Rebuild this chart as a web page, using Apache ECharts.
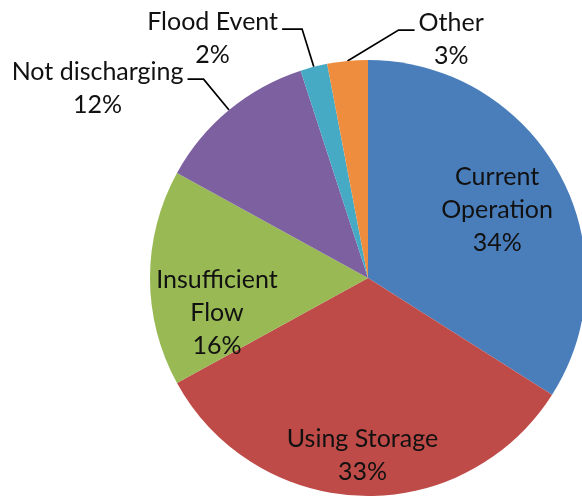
<!DOCTYPE html>
<html>
<head>
<meta charset="utf-8">
<title>Discharge status</title>
<script src="https://cdn.jsdelivr.net/npm/echarts@6/dist/echarts.min.js"></script>
<style>
  html, body { margin: 0; padding: 0; background: #ffffff; }
  #chart { width: 582px; height: 497px; }
</style>
</head>
<body>
<div id="chart"></div>
<script>
// Slice categories, in clockwise order from 12 o'clock
const categories = ['Current Operation', 'Using Storage', 'Insufficient Flow', 'Not discharging', 'Flood Event', 'Other'];
// How each category name is broken over lines in its label
const labelLines = [['Current', 'Operation'], ['Using Storage'], ['Insufficient', 'Flow'], ['Not discharging'], ['Flood Event'], ['Other']];
// Share of each category, percent
const shares = [34, 33, 16, 12, 2, 3];

const colors = ['#4A7EBB', '#BE4B48', '#98B954', '#7D60A0', '#46AAC5', '#EF8D3E'];

// Nudges (px) for labels drawn inside their slice
const insideNudge = { 0: [31, -14], 1: [-2, 65], 2: [-39, 35] };
// Leader settings for labels drawn outside the pie
const outsideLeader = {
  3: { length: 40, len2: 16, shift: 0 },
  4: { length: 39, len2: 20, shift: -2 },
  5: { length: 31, len2: 16, shift: 54, flip: true }
};
const GAP = 4;         // gap between leader end and text
const TEXT_RAISE = 24; // text block top sits this far above the leader

const data = categories.map((name, i) => {
  const inside = insideNudge[i] !== undefined;
  return {
    name: name,
    value: shares[i],
    itemStyle: { color: colors[i] },
    label: { position: inside ? 'inside' : 'outside' },
    labelLine: inside
      ? { show: false }
      : { show: true, length: outsideLeader[i].length, length2: outsideLeader[i].len2 }
  };
});

const chart = echarts.init(document.getElementById('chart'), null, { renderer: 'canvas' });

chart.setOption({
  animation: false,
  series: [{
    type: 'pie',
    center: [368, 278],
    radius: 218,
    startAngle: 90,
    clockwise: true,
    avoidLabelOverlap: false,
    itemStyle: { borderWidth: 0 },
    emphasis: { disabled: true },
    data: data,
    label: {
      formatter: p => labelLines[p.dataIndex]
        .concat(p.value + '%')
        .map(s => '{t|' + s + '}')
        .join('\n'),
      rich: {
        t: {
          fontFamily: 'Lato',
          fontSize: 25,
          lineHeight: 33,
          color: '#111111',
          align: 'center'
        }
      },
      bleedMargin: 2,
      overflow: 'none'
    },
    labelLine: {
      lineStyle: { color: '#000000', width: 1.7 }
    },
    labelLayout: function (params) {
      const i = params.dataIndex;
      const r = params.labelRect;
      if (insideNudge[i] !== undefined) {
        return {
          x: r.x + r.width / 2 + insideNudge[i][0],
          y: r.y + r.height / 2 + insideNudge[i][1],
          align: 'center',
          verticalAlign: 'middle'
        };
      }
      const pts = params.labelLinePoints;
      const cfg = outsideLeader[i];
      const p0 = pts[0];
      const p1 = [pts[1][0] + cfg.shift, pts[1][1]];
      const dir = cfg.flip ? 1 : (pts[2][0] < pts[1][0] ? -1 : 1);
      const p2 = [p1[0] + dir * cfg.len2, p1[1]];
      return {
        x: p2[0] + dir * GAP,
        y: p2[1] - TEXT_RAISE,
        align: dir < 0 ? 'right' : 'left',
        verticalAlign: 'top',
        labelLinePoints: [p0, p1, p2]
      };
    }
  }]
});
</script>
</body>
</html>
